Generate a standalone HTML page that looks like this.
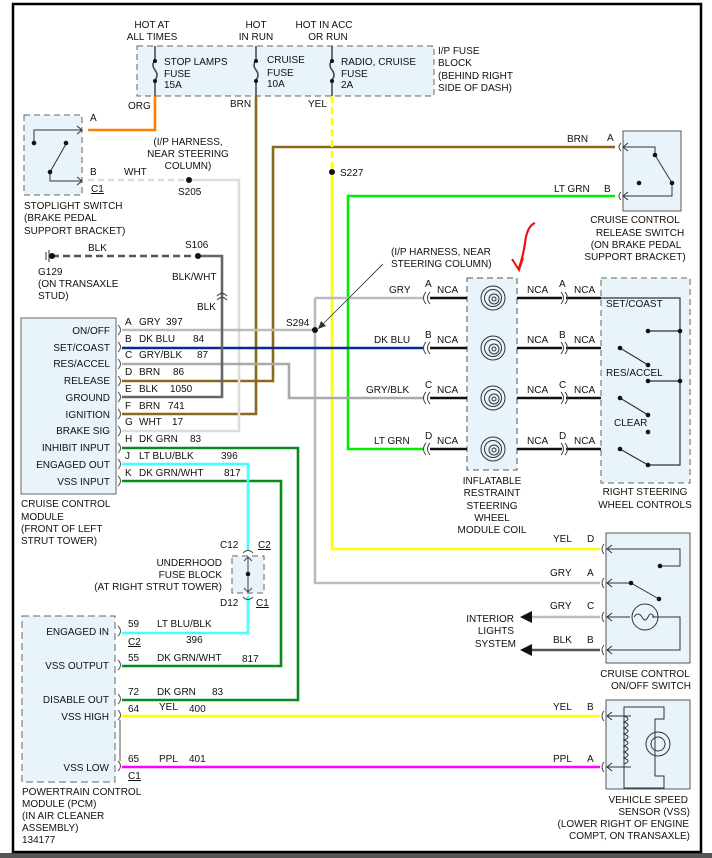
<!DOCTYPE html>
<html><head><meta charset="utf-8"><style>
html,body{margin:0;padding:0;background:#fff;}
svg{display:block;font-family:"Liberation Sans",Arial,sans-serif;font-size:10px;fill:#111;}
text{fill:#111;}
</style></head><body>
<svg width="712" height="858" viewBox="0 0 712 858" xmlns="http://www.w3.org/2000/svg">
<rect x="0" y="853" width="712" height="5" fill="#555"/>
<rect x="13" y="4" width="688" height="848" fill="#fff" stroke="#000" stroke-width="2.5"/>

<!-- Fuse block -->
<rect x="137" y="46" width="297" height="50" fill="#e8f4fa" stroke="#666" stroke-dasharray="6,4"/>
<g stroke="#444" stroke-width="1.5" fill="none">
<path d="M155 46V60 M155 80V96 M155 60q-4 5 0 10q4 5 0 10"/>
<path d="M256 46V60 M256 80V96 M256 60q-4 5 0 10q4 5 0 10"/>
<path d="M332 46V60 M332 80V96 M332 60q-4 5 0 10q4 5 0 10"/>
</g>
<g fill="#111"><circle cx="155" cy="61" r="2"/><circle cx="155" cy="81" r="2"/><circle cx="256" cy="61" r="2"/><circle cx="256" cy="81" r="2"/><circle cx="332" cy="61" r="2"/><circle cx="332" cy="81" r="2"/></g>
<text x="152" y="28" text-anchor="middle">HOT AT</text><text x="152" y="40" text-anchor="middle">ALL TIMES</text>
<text x="256" y="28" text-anchor="middle">HOT</text><text x="256" y="40" text-anchor="middle">IN RUN</text>
<text x="324" y="28" text-anchor="middle">HOT IN ACC</text><text x="328" y="40" text-anchor="middle">OR RUN</text>
<text x="164" y="65">STOP LAMPS</text><text x="164" y="77">FUSE</text><text x="164" y="88">15A</text>
<text x="267" y="63">CRUISE</text><text x="267" y="76">FUSE</text><text x="267" y="87">10A</text>
<text x="341" y="65">RADIO, CRUISE</text><text x="341" y="77">FUSE</text><text x="341" y="88">2A</text>
<text x="438" y="54">I/P FUSE</text><text x="438" y="66">BLOCK</text><text x="438" y="79">(BEHIND RIGHT</text><text x="438" y="91">SIDE OF DASH)</text>
<text x="128" y="109">ORG</text><text x="230" y="107">BRN</text><text x="308" y="107">YEL</text>

<!-- Stoplight switch -->
<rect x="24" y="115" width="58" height="80" fill="#e8f4fa" stroke="#666" stroke-dasharray="6,4"/>
<g stroke="#333" stroke-width="1" fill="none">
<path d="M34 143V130H82 M77 126l5 4l-5 4"/>
<path d="M50 172V181H82 M77 177l5 4l-5 4"/>
<path d="M50 172L66 144"/>
</g>
<g fill="#111"><circle cx="34" cy="143" r="2.3"/><circle cx="50" cy="172" r="2.3"/><circle cx="66" cy="143" r="2.3"/></g>
<text x="90" y="121">A</text><text x="90" y="175">B</text><text x="91" y="192" text-decoration="underline">C1</text>
<text x="24" y="209">STOPLIGHT SWITCH</text><text x="24" y="221">(BRAKE PEDAL</text><text x="24" y="234">SUPPORT BRACKET)</text>

<!-- wires -->
<g fill="none" stroke-width="2.6" stroke-linejoin="miter">
<path d="M155 96V130H88" stroke="#ff8000"/>
<path d="M256 96V414H122" stroke="#8a6a1a"/>
<path d="M615 147H273V381H122" stroke="#8a6a1a"/>
<path d="M88 180H189" stroke="#ddd" stroke-dasharray="6,4"/>
<path d="M189 180H239V431H122" stroke="#ddd"/>
<path d="M332 96V172" stroke="#ff0" stroke-dasharray="7,4"/>
<path d="M332 172V549H600" stroke="#ff0"/>
<path d="M615 196H348V449H424" stroke="#00ee00"/>
<path d="M122 330H315 M315 298H424 M315 298V583H600" stroke="#bbb"/>
<path d="M122 348H424" stroke="#0a2a8f"/>
<path d="M122 364H289V398H424" stroke="#aaa"/>
<path d="M198 256H222V397H122" stroke="#666"/>
<path d="M52 256H198" stroke="#555" stroke-dasharray="7,4"/>
<path d="M122 448H298V700H122" stroke="#0a8a1a"/>
<path d="M122 481H281V666H122" stroke="#0a8a1a"/>
<path d="M122 464H248V551 M248 596V633H122" stroke="#4ff"/>
<path d="M122 716H600" stroke="#ff0"/>
<path d="M122 767H600" stroke="#f0f"/>
<path d="M600 617H530" stroke="#bbb"/>
<path d="M600 650H530" stroke="#555"/>
</g>
<g fill="#111">
<path d="M520 617l12-6v12z"/><path d="M520 650l12-6v12z"/>
<circle cx="189" cy="180" r="3"/><circle cx="198" cy="256" r="3"/><circle cx="332" cy="172" r="3"/><circle cx="315" cy="330" r="3"/>
<circle cx="52" cy="256" r="3"/>
</g>
<path d="M46 252v8M49 250v12" stroke="#333" stroke-width="1"/>
<path d="M217 296q5-5 10 0M217 300q5-5 10 0" stroke="#333" fill="none" stroke-width="1"/>
<text x="188" y="145" text-anchor="middle">(I/P HARNESS,</text>
<text x="188" y="157" text-anchor="middle">NEAR STEERING</text>
<text x="188" y="169" text-anchor="middle">COLUMN)</text>
<text x="124" y="175">WHT</text><text x="178" y="195">S205</text>
<text x="88" y="251">BLK</text><text x="185" y="248">S106</text><text x="172" y="280">BLK/WHT</text><text x="197" y="310">BLK</text>
<text x="38" y="275">G129</text><text x="38" y="287">(ON TRANSAXLE</text><text x="38" y="299">STUD)</text>
<text x="340" y="176">S227</text><text x="286" y="326">S294</text>
<text x="391" y="255">(I/P HARNESS, NEAR</text><text x="391" y="267">STEERING COLUMN)</text>
<path d="M383 264L320 327" stroke="#333" stroke-width="0.8"/><path d="M318 329l3-8l5 5z" fill="#333"/>

<!-- Cruise control module -->
<rect x="21" y="318" width="95" height="176" fill="#e8f4fa" stroke="#666"/>
<g text-anchor="end">
<text x="110" y="334">ON/OFF</text><text x="110" y="351">SET/COAST</text><text x="110" y="367">RES/ACCEL</text><text x="110" y="384">RELEASE</text><text x="110" y="401">GROUND</text><text x="110" y="418">IGNITION</text><text x="110" y="434">BRAKE SIG</text><text x="110" y="451">INHIBIT INPUT</text><text x="110" y="468">ENGAGED OUT</text><text x="110" y="485">VSS INPUT</text>
</g>
<g stroke="#555" fill="none" stroke-width="1">
<path d="M118 325q5 5 0 10M118 342q5 5 0 10M118 359q5 5 0 10M118 376q5 5 0 10M118 392q5 5 0 10M118 409q5 5 0 10M118 426q5 5 0 10M118 443q5 5 0 10M118 459q5 5 0 10M118 476q5 5 0 10"/>
</g>
<text x="125" y="325">A</text><text x="139" y="325">GRY</text><text x="166" y="325">397</text>
<text x="125" y="342">B</text><text x="139" y="342">DK BLU</text><text x="193" y="342">84</text>
<text x="125" y="358">C</text><text x="139" y="358">GRY/BLK</text><text x="197" y="358">87</text>
<text x="125" y="375">D</text><text x="139" y="375">BRN</text><text x="173" y="375">86</text>
<text x="125" y="392">E</text><text x="139" y="392">BLK</text><text x="170" y="392">1050</text>
<text x="125" y="409">F</text><text x="139" y="409">BRN</text><text x="168" y="409">741</text>
<text x="125" y="425">G</text><text x="139" y="425">WHT</text><text x="172" y="425">17</text>
<text x="125" y="442">H</text><text x="139" y="442">DK GRN</text><text x="190" y="442">83</text>
<text x="125" y="459">J</text><text x="139" y="459">LT BLU/BLK</text><text x="221" y="459">396</text>
<text x="125" y="476">K</text><text x="139" y="476">DK GRN/WHT</text><text x="224" y="476">817</text>
<text x="21" y="507">CRUISE CONTROL</text><text x="21" y="520">MODULE</text><text x="21" y="532">(FRONT OF LEFT</text><text x="21" y="544">STRUT TOWER)</text>

<!-- Underhood fuse block -->
<rect x="232" y="556" width="32" height="37" fill="#e8f4fa" stroke="#666" stroke-dasharray="6,4"/>
<path d="M248 557V592M244 561l4-4l4 4M244 588l4 4l4-4M243 553q5-5 10 0M243 597q5 5 10 0" stroke="#444" fill="none"/>
<circle cx="248" cy="574" r="2.3" fill="#111"/>
<text x="220" y="548">C12</text><text x="258" y="548" text-decoration="underline">C2</text>
<text x="220" y="606">D12</text><text x="256" y="606" text-decoration="underline">C1</text>
<g text-anchor="end"><text x="222" y="566">UNDERHOOD</text><text x="222" y="578">FUSE BLOCK</text><text x="222" y="590">(AT RIGHT STRUT TOWER)</text></g>

<!-- PCM -->
<rect x="22" y="616" width="93" height="166" fill="#e8f4fa" stroke="#666" stroke-dasharray="7,4"/>
<g text-anchor="end">
<text x="109" y="635">ENGAGED IN</text><text x="109" y="669">VSS OUTPUT</text><text x="109" y="703">DISABLE OUT</text><text x="109" y="720">VSS HIGH</text><text x="109" y="771">VSS LOW</text>
</g>
<path d="M118 626q5 5 0 10M118 660q5 5 0 10M118 694q5 5 0 10M118 710q5 5 0 10M118 761q5 5 0 10M120 720V761" stroke="#555" fill="none"/>
<text x="128" y="627">59</text><text x="157" y="627">LT BLU/BLK</text><text x="186" y="643">396</text><text x="128" y="645" text-decoration="underline">C2</text>
<text x="128" y="661">55</text><text x="157" y="661">DK GRN/WHT</text><text x="242" y="662">817</text>
<text x="128" y="695">72</text><text x="157" y="695">DK GRN</text><text x="212" y="695">83</text>
<text x="128" y="712">64</text><text x="159" y="710">YEL</text><text x="189" y="712">400</text>
<text x="128" y="762">65</text><text x="159" y="762">PPL</text><text x="189" y="762">401</text><text x="128" y="779" text-decoration="underline">C1</text>
<text x="22" y="795">POWERTRAIN CONTROL</text><text x="22" y="807">MODULE (PCM)</text><text x="22" y="819">(IN AIR CLEANER</text><text x="22" y="831">ASSEMBLY)</text><text x="22" y="843">134177</text>

<!-- Inflatable restraint coil and steering controls -->
<rect x="467" y="278" width="50" height="192" fill="#e8f4fa" stroke="#555" stroke-dasharray="6,4"/>
<rect x="601" y="278" width="89" height="205" fill="#e8f4fa" stroke="#666" stroke-dasharray="6,4"/>
<g stroke="#111" stroke-width="2.4" fill="none">
<path d="M430 298H467M517 298H562M566 298H601"/>
<path d="M430 348H467M517 348H562M566 348H601"/>
<path d="M430 398H467M517 398H562M566 398H601"/>
<path d="M430 449H467M517 449H562M566 449H601"/>
</g>
<g stroke="#444" fill="none" stroke-width="1">
<path d="M426 292q-5 6 0 12M430 292q-5 6 0 12M426 342q-5 6 0 12M430 342q-5 6 0 12M426 392q-5 6 0 12M430 392q-5 6 0 12M426 443q-5 6 0 12M430 443q-5 6 0 12"/>
<path d="M561 292q5 6 0 12M565 292q5 6 0 12M561 342q5 6 0 12M565 342q5 6 0 12M561 392q5 6 0 12M565 392q5 6 0 12M561 443q5 6 0 12M565 443q5 6 0 12"/>
</g>
<g stroke="#333" fill="none" stroke-width="1">
<circle cx="493" cy="298" r="12"/><circle cx="493" cy="298" r="8.5"/><circle cx="494" cy="299" r="5"/><circle cx="494" cy="299" r="2"/>
<circle cx="493" cy="348" r="12"/><circle cx="493" cy="348" r="8.5"/><circle cx="494" cy="349" r="5"/><circle cx="494" cy="349" r="2"/>
<circle cx="493" cy="398" r="12"/><circle cx="493" cy="398" r="8.5"/><circle cx="494" cy="399" r="5"/><circle cx="494" cy="399" r="2"/>
<circle cx="493" cy="449" r="12"/><circle cx="493" cy="449" r="8.5"/><circle cx="494" cy="450" r="5"/><circle cx="494" cy="450" r="2"/>
</g>
<g stroke="#333" fill="none" stroke-width="1.2">
<path d="M601 298H680V465H648M648 331H680M648 381H680"/>
<path d="M620 348L648 365M620 398L648 415M620 449L648 465"/>
</g>
<g fill="#111"><circle cx="648" cy="331" r="2.3"/><circle cx="680" cy="331" r="2.3"/><circle cx="648" cy="381" r="2.3"/><circle cx="680" cy="381" r="2.3"/><circle cx="620" cy="348" r="2.3"/><circle cx="648" cy="365" r="2.3"/><circle cx="620" cy="398" r="2.3"/><circle cx="648" cy="415" r="2.3"/><circle cx="620" cy="449" r="2.3"/><circle cx="648" cy="465" r="2.3"/><circle cx="648" cy="432" r="2.3"/></g>
<text x="389" y="293">GRY</text><text x="374" y="343">DK BLU</text><text x="366" y="393">GRY/BLK</text><text x="374" y="444">LT GRN</text>
<g>
<text x="425" y="287">A</text><text x="437" y="293">NCA</text><text x="527" y="293">NCA</text><text x="559" y="287">A</text><text x="574" y="293">NCA</text>
<text x="425" y="338">B</text><text x="437" y="343">NCA</text><text x="527" y="343">NCA</text><text x="559" y="338">B</text><text x="574" y="343">NCA</text>
<text x="425" y="388">C</text><text x="437" y="393">NCA</text><text x="527" y="393">NCA</text><text x="559" y="388">C</text><text x="574" y="393">NCA</text>
<text x="425" y="439">D</text><text x="437" y="444">NCA</text><text x="527" y="444">NCA</text><text x="559" y="439">D</text><text x="574" y="444">NCA</text>
</g>
<text x="606" y="307">SET/COAST</text><text x="606" y="376">RES/ACCEL</text><text x="614" y="426">CLEAR</text>
<g text-anchor="middle"><text x="492" y="484">INFLATABLE</text><text x="492" y="496">RESTRAINT</text><text x="492" y="509">STEERING</text><text x="492" y="521">WHEEL</text><text x="492" y="533">MODULE COIL</text>
<text x="645" y="495">RIGHT STEERING</text><text x="645" y="508">WHEEL CONTROLS</text></g>

<!-- red annotation -->
<path d="M535 223q-8 3-10 20q-2 14-6 25" stroke="#e11" stroke-width="2.2" fill="none"/>
<path d="M512 259l7 11l4-12" stroke="#e11" stroke-width="2" fill="none"/>

<!-- Release switch -->
<rect x="623" y="131" width="58" height="80" fill="#e8f4fa" stroke="#555"/>
<path d="M621 143q-4 4 0 8M621 192q-4 4 0 8" stroke="#444" fill="none"/>
<g stroke="#333" fill="none" stroke-width="1"><path d="M623 147H655V155L672 183V196H623M628 143l-5 4l5 4M628 192l-5 4l5 4"/></g>
<g fill="#111"><circle cx="655" cy="155" r="2.3"/><circle cx="672" cy="183" r="2.3"/><circle cx="639" cy="183" r="2.3"/></g>
<text x="567" y="142">BRN</text><text x="607" y="141">A</text><text x="554" y="192">LT GRN</text><text x="604" y="192">B</text>
<g text-anchor="middle"><text x="635" y="223">CRUISE CONTROL</text><text x="640" y="236">RELEASE SWITCH</text><text x="636" y="248">(ON BRAKE PEDAL</text><text x="635" y="260">SUPPORT BRACKET)</text></g>

<!-- On/off switch -->
<rect x="606" y="533" width="84" height="130" fill="#e8f4fa" stroke="#555"/>
<path d="M604 544q-4 5 0 10M604 578q-4 5 0 10M604 612q-4 5 0 10M604 645q-4 5 0 10" stroke="#444" fill="none"/>
<g stroke="#333" fill="none" stroke-width="1">
<path d="M607 549H680V566H660M607 583H631L659 599M607 617H630M652 617H680V650H607"/>
<circle cx="645" cy="617" r="13"/>
<path d="M634 617q4-6 8 0q3 6 6 0q3-6 6 0"/>
<path d="M612 545l-5 4l5 4M612 579l-5 4l5 4M612 613l-5 4l5 4M612 646l-5 4l5 4"/>
</g>
<g fill="#111"><circle cx="660" cy="566" r="2.3"/><circle cx="631" cy="583" r="2.3"/><circle cx="659" cy="599" r="2.3"/></g>
<text x="553" y="542">YEL</text><text x="587" y="542">D</text><text x="550" y="576">GRY</text><text x="587" y="576">A</text><text x="550" y="609">GRY</text><text x="587" y="609">C</text><text x="553" y="643">BLK</text><text x="587" y="643">B</text>
<g text-anchor="end"><text x="514" y="622">INTERIOR</text><text x="514" y="634">LIGHTS</text><text x="516" y="647">SYSTEM</text></g>
<g text-anchor="middle"><text x="645" y="677">CRUISE CONTROL</text><text x="651" y="689">ON/OFF SWITCH</text></g>

<!-- VSS -->
<rect x="606" y="700" width="84" height="89" fill="#e8f4fa" stroke="#555"/>
<path d="M604 711q-4 5 0 10M604 762q-4 5 0 10" stroke="#444" fill="none"/>
<g stroke="#333" fill="none" stroke-width="1">
<path d="M607 716H631M607 767H631M612 712l-5 4l5 4M612 763l-5 4l5 4"/>
<path d="M624 707H664V719H655V776H664V788H624Z"/>
<path d="M624 716q8 3 0 6q8 3 0 6q8 3 0 6q8 3 0 6q8 3 0 6q8 3 0 6q8 3 0 6q8 3 0 6"/>
<circle cx="658" cy="744" r="12"/><circle cx="658" cy="744" r="7"/>
</g>
<text x="553" y="710">YEL</text><text x="587" y="710">B</text><text x="553" y="762">PPL</text><text x="587" y="762">A</text>
<g text-anchor="end"><text x="688" y="803">VEHICLE SPEED</text><text x="690" y="815">SENSOR (VSS)</text><text x="689" y="827">(LOWER RIGHT OF ENGINE</text><text x="690" y="839">COMPT, ON TRANSAXLE)</text></g>
</svg>
</body></html>
